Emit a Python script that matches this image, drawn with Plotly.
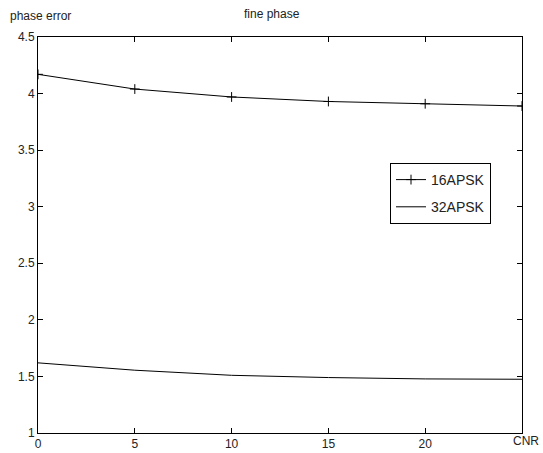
import plotly.graph_objects as go

cnr = [0, 5, 10, 15, 20, 25]
apsk16 = [4.17, 4.04, 3.97, 3.93, 3.91, 3.89]
apsk32 = [1.62, 1.555, 1.51, 1.49, 1.478, 1.475]
x_tickvals = [0, 5, 10, 15, 20, 25]
x_ticktext = ["0", "5", "10", "15", "20", ""]
y_tickvals = [1, 1.5, 2, 2.5, 3, 3.5, 4, 4.5]
y_ticktext = ["1", "1.5", "2", "2.5", "3", "3.5", "4", "4.5"]

W, H = 543, 453
L, R, T, B = 38, 21, 37, 20
pw, ph = W - L - R, H - T - B

def px(x):
    return (x - L) / pw

def py(y):
    return (H - B - y) / ph

fig = go.Figure()
fig.add_trace(go.Scatter(x=cnr, y=apsk16, name="16APSK", mode="lines+markers",
                         legendgroup="a",
                         line=dict(color="black", width=1), cliponaxis=True,
                         marker=dict(symbol="cross-thin", size=7,
                                     line=dict(color="black", width=1))))
fig.add_trace(go.Scatter(x=cnr, y=apsk32, name="32APSK", mode="lines",
                         legendgroup="b",
                         line=dict(color="black", width=1)))

font = dict(family="Liberation Sans, Arial, sans-serif", size=12, color="#222")
axis_common = dict(showline=True, linecolor="black", linewidth=1, mirror="ticks",
                   ticks="inside", ticklen=5, tickcolor="black", showgrid=False,
                   zeroline=False, tickfont=font, automargin=False)

fig.update_layout(
    width=W, height=H,
    margin=dict(l=L, r=R, t=T, b=B, autoexpand=False),
    paper_bgcolor="white", plot_bgcolor="white",
    font=font,
    showlegend=True,
    legend=dict(x=px(390), y=py(163), xanchor="left", yanchor="top",
                bordercolor="black", borderwidth=1, bgcolor="white",
                font=dict(family="Liberation Sans, Arial, sans-serif", size=14, color="#222"),
                tracegroupgap=6, itemwidth=30, entrywidth=115),
    xaxis=dict(range=[0, 25], tickvals=x_tickvals, ticktext=x_ticktext, **axis_common),
    yaxis=dict(range=[1, 4.5], tickvals=y_tickvals, ticktext=y_ticktext, **axis_common),
    annotations=[
        dict(text="fine phase", xref="paper", yref="paper", x=px(272), y=py(14),
             xanchor="center", yanchor="middle", showarrow=False, font=font),
        dict(text="phase error", xref="paper", yref="paper", x=px(8), y=py(16),
             xanchor="left", yanchor="middle", showarrow=False, font=font),
        dict(text="CNR", xref="paper", yref="paper", x=px(541), y=py(441),
             xanchor="right", yanchor="middle", showarrow=False, font=font),
    ],
)

fig.write_html("out.html", config={"displayModeBar": False},
               post_script="document.body.style.margin='0';document.body.style.overflow='hidden';")
